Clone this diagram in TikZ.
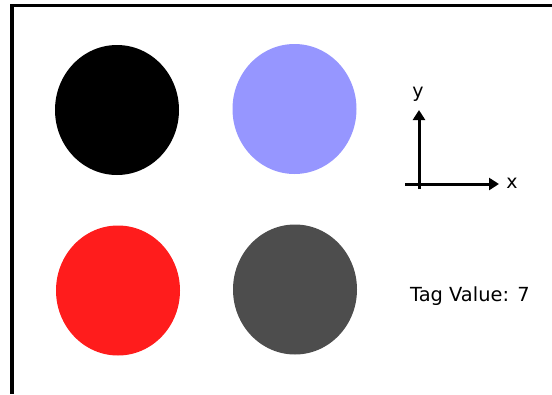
\documentclass[tikz,border=0pt]{standalone}
\usepackage{fontspec}
\setmainfont{DejaVu Sans}
\usetikzlibrary{positioning,arrows.meta,shapes.geometric}
\definecolor{dotblue}{RGB}{150,150,255}
\definecolor{dotred}{RGB}{255,28,28}
\definecolor{dotgray}{RGB}{77,77,77}
\tikzset{
  dot/.style={ellipse,draw=none,inner sep=0pt,
              minimum width=124pt,minimum height=130pt},
  axis/.style={-{Triangle[length=10pt,width=12pt]},line width=3pt},
  axlabel/.style={inner sep=0pt,font=\fontsize{19}{22}\selectfont},
  frame/.style={line width=3.5pt},
}

\begin{document}
\begin{tikzpicture}[x=1pt,y=-1pt]
    \useasboundingbox (0,0) rectangle (552,394);
    \draw[frame] (552,5.5) -- (12,5.5) -- (12,394);
    % colour dots
    \node[dot,fill=black] (dblack) at (117,110) {};
    \node[dot,fill=dotblue] (dblue) at (294.5,109) {};
    \node[dot,fill=dotred] (dred) at (118,290.5) {};
    \node[dot,fill=dotgray] (dgray) at (295,289.5) {};
    % axes
    \coordinate (ybot) at (419,189);
    \coordinate (ytip) at (419,110);
    \coordinate (xleft) at (405,184);
    \coordinate (xtip) at (499,184);
    \draw[axis] (ybot) -- (ytip);
    \draw[axis] (xleft) -- (xtip);
    \node[axlabel] (ylab) at (418,94) {y};
    \node[axlabel] (xlab) at (512,183) {x};
    \node[anchor=west,inner sep=0pt,font=\fontsize{19.4}{23}\selectfont] (tag) at (410,296) {Tag Value: 7};
\end{tikzpicture}
\end{document}
